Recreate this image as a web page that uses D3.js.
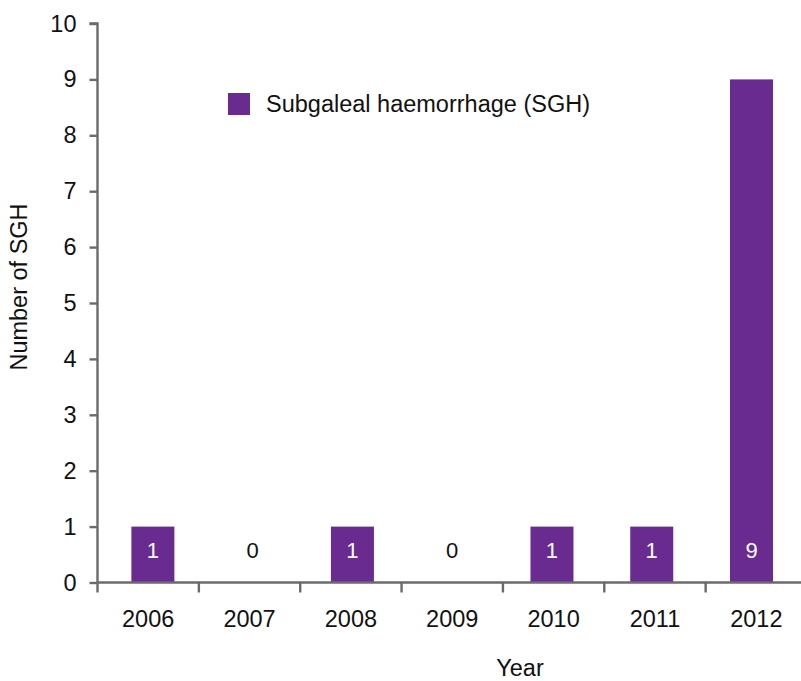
<!DOCTYPE html>
<html>
<head>
<meta charset="utf-8">
<script src="https://cdn.jsdelivr.net/npm/d3@7/dist/d3.min.js"></script>
<style>
  html, body { margin: 0; padding: 0; background: #fff; }
  svg { display: block; }
  text { font-family: "Liberation Sans", Arial, Helvetica, sans-serif; fill: #111; }
</style>
</head>
<body>
<svg id="chart" width="801" height="681"></svg>
<script>
// Subgaleal haemorrhage cases per year
const years = ["2006", "2007", "2008", "2009", "2010", "2011", "2012"];
const sghCounts = [1, 0, 1, 0, 1, 1, 9];
const yTicks = [0, 1, 2, 3, 4, 5, 6, 7, 8, 9, 10];
const seriesName = "Subgaleal haemorrhage (SGH)";
const xTitle = "Year";
const yTitle = "Number of SGH";

const barColor = "#692b8f";
const axisColor = "#6b6b6b";
const fontSize = 23.5;

const svg = d3.select("#chart");

const plotLeft = 97.5, plotRight = 807, plotTop = 23.5, plotBottom = 582.5;

// category bands (axis ticks sit at band edges)
const xBand = d3.scaleBand().domain(years).range([plotLeft, plotRight]).padding(0);
// bar slots
const xBar = d3.scaleBand().domain(years).range([103, 801.4])
  .paddingInner(0.569).paddingOuter(0.2845);
const y = d3.scaleLinear().domain([0, 10]).range([plotBottom, plotTop]);

const data = years.map((yr, i) => ({ year: yr, value: sghCounts[i] }));

// bars
svg.append("g").selectAll("rect")
  .data(data.filter(d => d.value > 0))
  .join("rect")
  .attr("x", d => xBar(d.year))
  .attr("width", xBar.bandwidth())
  .attr("y", d => y(d.value))
  .attr("height", d => y(0) - y(d.value))
  .attr("fill", barColor);

// y axis
const yAxis = svg.append("g").attr("transform", `translate(${plotLeft},0)`)
  .call(d3.axisLeft(y).tickValues(yTicks).tickSize(8).tickPadding(13).tickFormat(d3.format("d")));
yAxis.select(".domain").attr("stroke", axisColor).attr("stroke-width", 2.4)
  .attr("d", `M-8,${plotTop}H0V${plotBottom}`);
yAxis.selectAll(".tick line").attr("stroke", axisColor).attr("stroke-width", 2.4);
yAxis.selectAll(".tick text").attr("font-size", fontSize).attr("fill", "#111")
  .attr("font-family", "Liberation Sans, Arial, sans-serif");

// x axis with ticks at band boundaries
const xg = svg.append("g").attr("transform", `translate(0,${plotBottom})`);
xg.append("line").attr("x1", plotLeft).attr("x2", plotRight).attr("y1", 0).attr("y2", 0)
  .attr("stroke", axisColor).attr("stroke-width", 2.4);
xg.selectAll("line.tk").data(years).join("line").attr("class", "tk")
  .attr("x1", d => xBand(d)).attr("x2", d => xBand(d))
  .attr("y1", 0).attr("y2", 10)
  .attr("stroke", axisColor).attr("stroke-width", 2.4);
xg.selectAll("text").data(years).join("text")
  .attr("x", d => xBand(d) + xBand.bandwidth() / 2)
  .attr("y", 44)
  .attr("text-anchor", "middle")
  .attr("font-size", fontSize)
  .text(d => d);

// value labels near the base of each bar
svg.append("g").selectAll("text")
  .data(data)
  .join("text")
  .attr("x", d => xBar(d.year) + xBar.bandwidth() / 2)
  .attr("y", y(0) - 25)
  .attr("text-anchor", "middle")
  .attr("font-size", 22)
  .style("fill", d => d.value > 0 ? "#ffffff" : "#111111")
  .text(d => d.value);

// legend
const lg = svg.append("g").attr("transform", "translate(228,93)");
lg.append("rect").attr("width", 22).attr("height", 22).attr("fill", barColor);
lg.append("text").attr("x", 38).attr("y", 19).attr("font-size", fontSize).text(seriesName);

// axis titles
svg.append("text").attr("x", 520).attr("y", 676).attr("text-anchor", "middle")
  .attr("font-size", fontSize).text(xTitle);
svg.append("text")
  .attr("transform", "translate(27,287) rotate(-90)")
  .attr("text-anchor", "middle")
  .attr("font-size", fontSize).text(yTitle);
</script>
</body>
</html>
